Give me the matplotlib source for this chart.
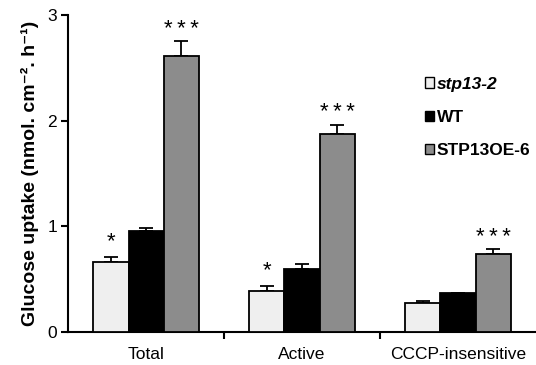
import matplotlib
matplotlib.use("Agg")
import matplotlib.pyplot as plt
from matplotlib.patches import Rectangle
import numpy as np

plt.rcParams['font.family'] = ['Liberation Sans', 'DejaVu Sans']

categories = ["Total", "Active", "CCCP-insensitive"]
series = ["stp13-2", "WT", "STP13OE-6"]
values = {
    "stp13-2": [0.66, 0.39, 0.27],
    "WT": [0.96, 0.60, 0.37],
    "STP13OE-6": [2.61, 1.87, 0.74],
}
errors = {
    "stp13-2": [0.05, 0.045, 0.025],
    "WT": [0.02, 0.04, 0.0],
    "STP13OE-6": [0.14, 0.09, 0.045],
}
stars = {
    "stp13-2": ["*", "*", ""],
    "WT": ["", "", ""],
    "STP13OE-6": ["***", "***", "***"],
}
colors = {"stp13-2": "#efefef", "WT": "#000000", "STP13OE-6": "#8c8c8c"}
yticks = [0, 1, 2, 3]

fig = plt.figure(figsize=(5.36, 3.65), dpi=100)
ax = fig.add_axes([0.127, 0.0904, 0.873, 0.869])

x = np.arange(len(categories))
w = 0.225
offsets = [-w, 0, w]
for s, off in zip(series, offsets):
    v = np.array(values[s])
    e = np.array(errors[s])
    ax.bar(x + off, v, width=w, color=colors[s], edgecolor="black", linewidth=1.3, zorder=3)
    ax.errorbar(x + off, v, yerr=[np.zeros_like(e), e], fmt="none", ecolor="black",
                elinewidth=1.3, capsize=5, capthick=1.3, zorder=2)
    for xi, vi, ei, st in zip(x + off, v, e, stars[s]):
        if st:
            gap = 0.06 if len(st) == 3 else 0.09
            ax.text(xi, vi + ei + gap, "\u2009".join(st), ha="center", va="baseline", fontsize=16)

ax.set_xlim(-0.5, 2.5)
ax.set_ylim(0, 3)
ax.set_yticks(yticks)
ax.set_yticklabels([str(t) for t in yticks], fontsize=12.5)
ax.set_xticks([0.5, 1.5])
ax.set_xticklabels([])
ax.set_xticks(x, minor=True)
ax.set_xticklabels(categories, minor=True, fontsize=12.5)
ax.tick_params(axis="x", which="minor", length=0, pad=11)
ax.tick_params(axis="x", which="major", length=5, width=1.5, direction="out")
ax.tick_params(axis="y", length=5, width=1.5, direction="out", pad=3)
for sp in ["top", "right"]:
    ax.spines[sp].set_visible(False)
for sp in ["left", "bottom"]:
    ax.spines[sp].set_linewidth(1.5)

ax.set_ylabel("Glucose uptake (nmol. cm\u207b\u00b2. h\u207b\u00b9)", fontsize=14,
              fontweight="bold", labelpad=6)

handles = [Rectangle((0, 0), 1, 1, facecolor=colors[s], edgecolor="black", linewidth=1) for s in series]
leg = ax.legend(handles, series, loc="upper left", bbox_to_anchor=(0.762, 0.805), frameon=False,
                handlelength=0.55, handleheight=0.55, handletextpad=0.15, labelspacing=1.05,
                prop={"size": 12.5, "weight": "bold"}, borderaxespad=0, borderpad=0)
leg.get_texts()[0].set_fontstyle("italic")

fig.savefig("out.png", dpi=100)
